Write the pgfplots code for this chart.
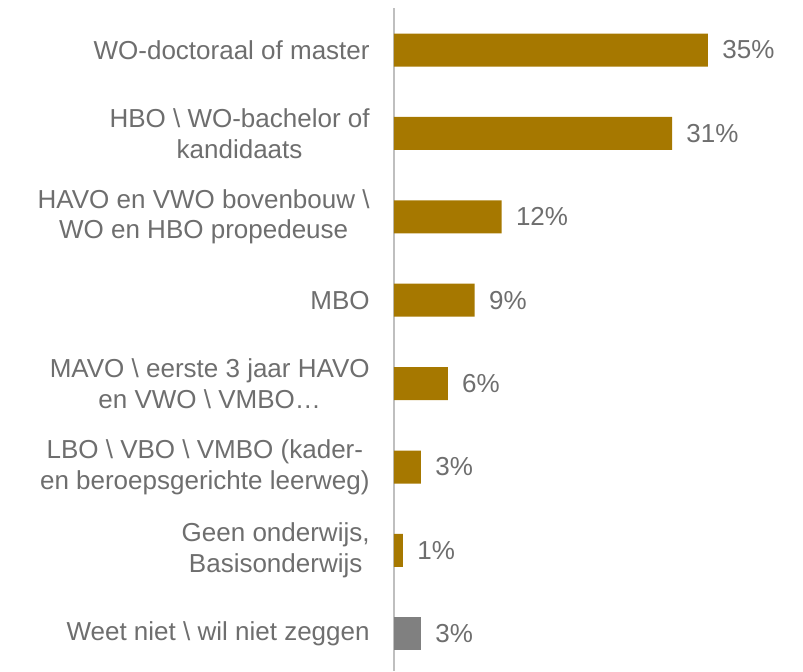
\documentclass[border=0pt]{standalone}
\usepackage{fontspec}
\setmainfont{Liberation Sans}
\usepackage{pgfplots}
\pgfplotsset{compat=1.18}

\definecolor{barGold}{HTML}{A67800}
\definecolor{barGray}{HTML}{808080}
\definecolor{txtGray}{HTML}{6E6E6E}
\definecolor{lineGray}{HTML}{BFBFBF}

\begin{document}
\begin{tikzpicture}
\useasboundingbox (0,0) rectangle (401.5pt,335.5pt);
\begin{axis}[
    at={(197pt,331.35pt)}, anchor=north west,
    scale only axis,
    width=179.4pt, height=331.1pt,
    xbar, bar width=16.5pt, bar shift=0pt,
    xmin=0, xmax=40,
    ymin=-0.5, ymax=7.44,
    y dir=reverse,
    enlargelimits=false,
    clip=false,
    hide x axis,
    axis y line*=left,
    y axis line style={draw=lineGray, line width=0.7pt},
    ytick={0,...,7},
    yticklabels={
        {WO-doctoraal of master},
        {HBO \textbackslash{} WO-bachelor of\\kandidaats},
        {HAVO en VWO bovenbouw \textbackslash\\WO en HBO propedeuse},
        {MBO},
        {MAVO \textbackslash{} eerste 3 jaar HAVO\\en VWO \textbackslash{} VMBO…},
        {LBO \textbackslash{} VBO \textbackslash{} VMBO (kader-\\en beroepsgerichte leerweg)},
        {Geen onderwijs,\\Basisonderwijs},
        {Weet niet \textbackslash{} wil niet zeggen}},
    major tick length=0pt,
    ytick style={draw=none},
    yticklabel style={align=center, anchor=east, inner sep=0pt, xshift=-12pt,
        text=txtGray, font=\fontsize{13}{15.3}\selectfont},
    /pgf/number format/assume math mode=true,
    nodes near coords={\pgfmathprintnumber{\pgfplotspointmeta}\%},
    nodes near coords style={anchor=west, inner sep=0pt, xshift=7pt,
        text=txtGray, font=\fontsize{13}{15.3}\selectfont},
]
\addplot[fill=barGold, draw=none, bar shift=0pt] coordinates {
    (35,0) (31,1) (12,2) (9,3) (6,4) (3,5) (1,6)
};
\addplot[fill=barGray, draw=none, bar shift=0pt] coordinates {
    (3,7)
};
\end{axis}
\end{tikzpicture}
\end{document}
